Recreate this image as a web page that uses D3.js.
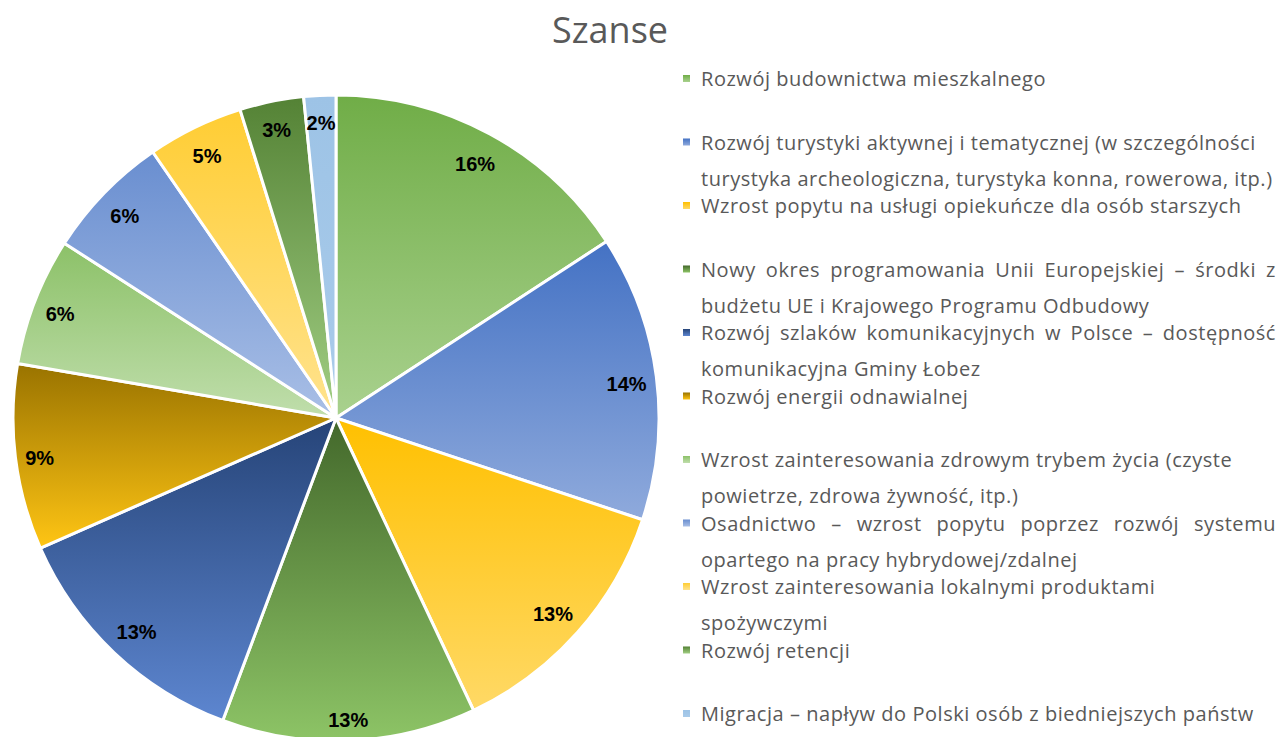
<!DOCTYPE html>
<html><head><meta charset="utf-8">
<script src="https://cdn.jsdelivr.net/npm/d3@7"></script>
<style>body{margin:0;background:#fff;} svg{display:block}</style>
</head><body>
<svg id="chart" width="1280" height="737"></svg>
<script>
const chartTitle = "Szanse";
const categories = [
  "Rozwój budownictwa mieszkalnego",
  "Rozwój turystyki aktywnej i tematycznej (w szczególności turystyka archeologiczna, turystyka konna, rowerowa, itp.)",
  "Wzrost popytu na usługi opiekuńcze dla osób starszych",
  "Nowy okres programowania Unii Europejskiej – środki z budżetu UE i Krajowego Programu Odbudowy",
  "Rozwój szlaków komunikacyjnych w Polsce – dostępność komunikacyjna Gminy Łobez",
  "Rozwój energii odnawialnej",
  "Wzrost zainteresowania zdrowym trybem życia (czyste powietrze, zdrowa żywność, itp.)",
  "Osadnictwo – wzrost popytu poprzez rozwój systemu opartego na pracy hybrydowej/zdalnej",
  "Wzrost zainteresowania lokalnymi produktami spożywczymi",
  "Rozwój retencji",
  "Migracja – napływ do Polski osób z biedniejszych państw"
];
const values = [15.8, 14.3, 12.9, 12.7, 12.7, 9.3, 6.4, 6.3, 4.8, 3.2, 1.6];
const legendLines = [
  ["Rozwój budownictwa mieszkalnego"],
  ["Rozwój turystyki aktywnej i tematycznej (w szczególności", "turystyka archeologiczna, turystyka konna, rowerowa, itp.)"],
  ["Wzrost popytu na usługi opiekuńcze dla osób starszych"],
  ["Nowy okres programowania Unii Europejskiej – środki z", "budżetu UE i Krajowego Programu Odbudowy"],
  ["Rozwój szlaków komunikacyjnych w Polsce – dostępność", "komunikacyjna Gminy Łobez"],
  ["Rozwój energii odnawialnej"],
  ["Wzrost zainteresowania zdrowym trybem życia (czyste", "powietrze, zdrowa żywność, itp.)"],
  ["Osadnictwo – wzrost popytu poprzez rozwój systemu", "opartego na pracy hybrydowej/zdalnej"],
  ["Wzrost zainteresowania lokalnymi produktami", "spożywczymi"],
  ["Rozwój retencji"],
  ["Migracja – napływ do Polski osób z biedniejszych państw"]
];
const justifyFirstLine = [false, false, false, true, true, false, false, true, false, false, false];
const colorTop = ["#70AD47", "#4472C4", "#FFC000", "#43682B", "#264478", "#997300", "#8CC168", "#698ED0", "#FFCD33", "#548235", "#9DC3E6"];
const colorBottom = ["#A9D18E", "#8FAADC", "#FFD966", "#8DC466", "#5D86D0", "#FFC514", "#C0DEAC", "#A9BFE6", "#FFE38F", "#A2CF84", "#A9CBEA"];

const svg = d3.select("#chart");
const cx = 336, cy = 418, R = 323;
const textGray = "#595959";

// title
svg.append("text")
  .attr("x", 610).attr("y", 43)
  .attr("text-anchor", "middle")
  .style("font-family", "'Open Sans', sans-serif")
  .style("font-size", "36px")
  .style("fill", textGray)
  .text(chartTitle);

// gradients
const defs = svg.append("defs");
values.forEach((v, i) => {
  const g = defs.append("linearGradient").attr("id", "grad" + i)
    .attr("x1", 0).attr("y1", 0).attr("x2", 0).attr("y2", 1);
  g.append("stop").attr("offset", "0%").attr("stop-color", colorTop[i]);
  g.append("stop").attr("offset", "100%").attr("stop-color", colorBottom[i]);
});

const pie = d3.pie().sort(null).value(d => d);
const arcs = pie(values);
const arc = d3.arc().innerRadius(0).outerRadius(R);
const total = d3.sum(values);
const fmt = d3.format(".0%");

const gPie = svg.append("g").attr("transform", `translate(${cx},${cy})`);
gPie.selectAll("path.slice").data(arcs).join("path")
  .attr("class", "slice")
  .attr("d", arc)
  .attr("fill", (d, i) => `url(#grad${i})`)
  .attr("stroke", "#fff")
  .attr("stroke-width", 3)
  .attr("stroke-linejoin", "round");

// labels: inside end
const labelSize = 20;
const capH = labelSize * 0.72;
const boxH = 30;
const target = R - 8;
gPie.selectAll("text.lbl").data(arcs).join("text")
  .attr("class", "lbl")
  .attr("text-anchor", "middle")
  .style("font-family", "'Liberation Sans', Arial, sans-serif")
  .style("font-weight", "bold")
  .style("font-size", labelSize + "px")
  .style("fill", "#000")
  .text(d => fmt(d.value / total))
  .each(function(d) {
    const w = this.getComputedTextLength();
    const a = (d.startAngle + d.endAngle) / 2;
    const s = Math.sin(a), c = -Math.cos(a);
    const maxC = dist => {
      let m = 0;
      for (const sx of [-1, 1]) for (const sy of [-1, 1]) {
        const x = dist * s + sx * w / 2, y = dist * c + sy * boxH / 2;
        m = Math.max(m, Math.hypot(x, y));
      }
      return m;
    };
    let lo = 0, hi = R;
    for (let k = 0; k < 40; k++) {
      const mid = (lo + hi) / 2;
      if (maxC(mid) > target) hi = mid; else lo = mid;
    }
    d3.select(this).attr("x", lo * s).attr("y", lo * c + capH / 2 + 3);
  });

// legend
const legendFont = "'Open Sans', sans-serif";
const legendSize = 20;
const textX = 701, rightEdge = 1276;
const firstBaseline = 86, slot = 63.5, lineGap = 36;
const gLeg = svg.append("g");

const measure = (str, ls) => {
  const t = gLeg.append("text").style("font-family", legendFont).style("font-size", legendSize + "px")
    .style("letter-spacing", ls + "px").text(str);
  const w = t.node().getComputedTextLength();
  t.remove();
  return w;
};
const refText = legendLines[0][0];
const nat = measure(refText, 0);
const letterSp = (345 - nat) / refText.length;

legendLines.forEach((lines, i) => {
  const base = firstBaseline + i * slot;
  gLeg.append("rect")
    .attr("x", 683).attr("y", base - 11).attr("width", 7).attr("height", 7)
    .attr("fill", `url(#grad${i})`);
  lines.forEach((ln, j) => {
    const y = base + j * lineGap;
    const t = gLeg.append("text")
      .attr("y", y)
      .style("font-family", legendFont)
      .style("font-size", legendSize + "px")
      .style("letter-spacing", letterSp + "px")
      .style("fill", textGray);
    if (j === 0 && justifyFirstLine[i]) {
      const words = ln.split(" ");
      const ws = words.map(wd => measure(wd, letterSp));
      const gap = (rightEdge - textX - d3.sum(ws)) / (words.length - 1);
      let x = textX;
      words.forEach((wd, k) => {
        t.append("tspan").attr("x", x).text(wd);
        x += ws[k] + gap;
      });
    } else {
      t.attr("x", textX).text(ln);
    }
  });
});
</script>
</body></html>
